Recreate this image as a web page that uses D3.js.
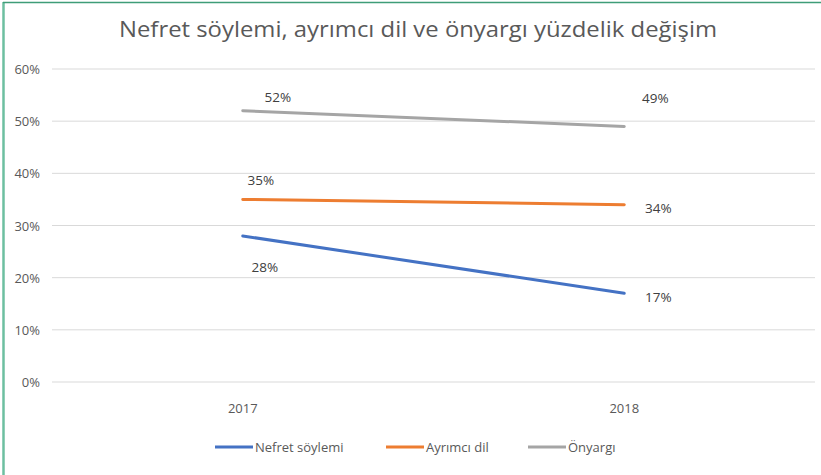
<!DOCTYPE html>
<html>
<head>
<meta charset="utf-8">
<script src="https://cdn.jsdelivr.net/npm/d3@7"></script>
<style>
  body { margin: 0; background: #fff; }
  text { font-family: "Open Sans", sans-serif; }
</style>
</head>
<body>
<div id="chart"></div>
<script>
var years = ["2017", "2018"];
var seriesNames = ["Nefret söylemi", "Ayrımcı dil", "Önyargı"];
var nefret = [28, 17];
var ayrimci = [35, 34];
var onyargi = [52, 49];
var yTicks = [0, 10, 20, 30, 40, 50, 60];
var colors = ["#4472C4", "#ED7D31", "#A5A5A5"];

var data = [nefret, ayrimci, onyargi].map(function(vals, i) {
  return {
    name: seriesNames[i],
    values: vals.map(function(v, j) { return {year: years[j], value: v}; })
  };
});

var width = 821;
var height = 475;

var svg = d3.select("#chart").append("svg")
  .attr("width", width)
  .attr("height", height);

/* frame */
svg.append("rect").attr("x", 0).attr("y", 0).attr("width", width).attr("height", height).attr("fill", "#fff");
svg.append("line").attr("x1", 3.5).attr("x2", 3.5).attr("y1", 2).attr("y2", height)
  .attr("stroke", "#6dbfa0").attr("stroke-width", 2.5);
svg.append("line").attr("x1", 3).attr("x2", width).attr("y1", 2.5).attr("y2", 2.5)
  .attr("stroke", "#3f9d78").attr("stroke-width", 1.5);

/* title */
svg.append("text")
  .attr("x", 418)
  .attr("y", 37)
  .attr("text-anchor", "middle")
  .attr("fill", "#595959")
  .style("font-size", "21px")
  .attr("textLength", 598)
  .attr("lengthAdjust", "spacingAndGlyphs")
  .text("Nefret söylemi, ayrımcı dil ve önyargı yüzdelik değişim");

/* scales */
var x = d3.scalePoint()
  .domain(years)
  .range([52, 815])
  .padding(0.5);

var y = d3.scaleLinear()
  .domain([0, 60])
  .range([382, 69]);

/* grid */
svg.append("g")
  .selectAll("line")
  .data(yTicks).enter()
  .append("line")
  .attr("x1", 52)
  .attr("x2", 815)
  .attr("y1", d => y(d))
  .attr("y2", d => y(d))
  .attr("stroke", "#d9d9d9")
  .attr("stroke-width", 1);

/* y axis labels */
svg.append("g")
  .selectAll("text")
  .data(yTicks).enter()
  .append("text")
  .attr("x", 40)
  .attr("y", d => y(d) + 5)
  .attr("text-anchor", "end")
  .attr("fill", "#595959")
  .style("font-size", "13px")
  .text(d => d + "%");

/* x axis labels */
svg.append("g")
  .selectAll("text")
  .data(years).enter()
  .append("text")
  .attr("x", d => x(d))
  .attr("y", 413)
  .attr("text-anchor", "middle")
  .attr("fill", "#595959")
  .style("font-size", "13px")
  .text(d => d);

/* lines */
var line = d3.line()
  .x(d => x(d.year))
  .y(d => y(d.value));

svg.append("g")
  .selectAll("path")
  .data(data).enter()
  .append("path")
  .attr("d", d => line(d.values))
  .attr("fill", "none")
  .attr("stroke", (d, i) => colors[i])
  .attr("stroke-width", 3)
  .attr("stroke-linecap", "round");

/* data labels: [dx, dy] offsets per series and point */
var labelOffsets = [
  [[22, 36], [34, 9]],
  [[18, -14], [34, 8]],
  [[35, -9], [31, -23]]
];

var labels = svg.append("g");
data.forEach(function(s, i) {
  labels.selectAll(null)
    .data(s.values).enter()
    .append("text")
    .attr("x", (d, j) => x(d.year) + labelOffsets[i][j][0])
    .attr("y", (d, j) => y(d.value) + labelOffsets[i][j][1])
    .attr("text-anchor", "middle")
    .attr("fill", "#404040")
    .style("font-size", "13.5px")
    .text(d => d.value + "%");
});

/* legend */
var legendX = [215, 386, 528];
var legend = svg.append("g");
data.forEach(function(s, i) {
  legend.append("line")
    .attr("x1", legendX[i])
    .attr("x2", legendX[i] + 38)
    .attr("y1", 447)
    .attr("y2", 447)
    .attr("stroke", colors[i])
    .attr("stroke-width", 3);
  legend.append("text")
    .attr("x", legendX[i] + 40)
    .attr("y", 452)
    .attr("fill", "#595959")
    .style("font-size", "13px")
    .text(s.name);
});
</script>
</body>
</html>
